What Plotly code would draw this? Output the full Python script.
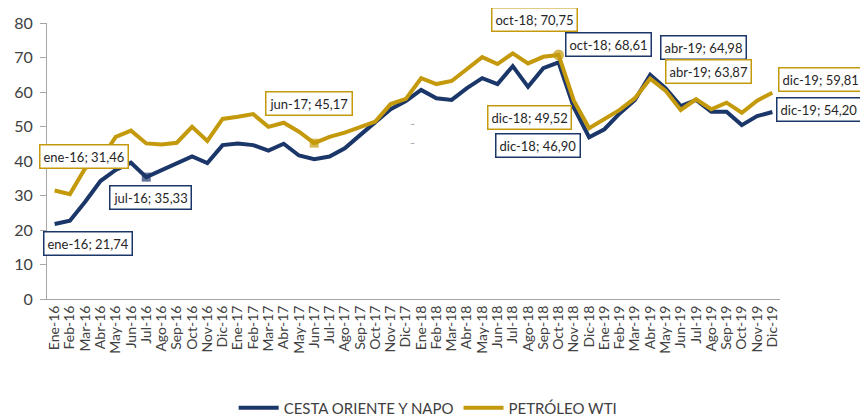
import plotly.graph_objects as go

months = ["Ene-16","Feb-16","Mar-16","Abr-16","May-16","Jun-16","Jul-16","Ago-16","Sep-16","Oct-16","Nov-16","Dic-16",
          "Ene-17","Feb-17","Mar-17","Abr-17","May-17","Jun-17","Jul-17","Ago-17","Sep-17","Oct-17","Nov-17","Dic-17",
          "Ene-18","Feb-18","Mar-18","Abr-18","May-18","Jun-18","Jul-18","Ago-18","Sep-18","Oct-18","Nov-18","Dic-18",
          "Ene-19","Feb-19","Mar-19","Abr-19","May-19","Jun-19","Jul-19","Ago-19","Sep-19","Oct-19","Nov-19","Dic-19"]

cesta = [21.74, 22.7, 28.2, 34.2, 37.4, 39.5, 35.33, 37.4, 39.4, 41.3, 39.4, 44.6,
         45.1, 44.6, 43.0, 45.0, 41.6, 40.5, 41.3, 43.7, 47.5, 51.4, 55.0, 57.4,
         60.6, 58.2, 57.7, 61.1, 64.0, 62.3, 67.5, 61.5, 66.9, 68.61, 55.5, 46.90,
         49.2, 53.8, 57.7, 64.98, 61.1, 55.9, 57.7, 54.3, 54.3, 50.4, 53.0, 54.20]

wti = [31.46, 30.4, 37.9, 40.3, 47.0, 48.8, 45.1, 44.8, 45.3, 49.9, 45.8, 52.2,
       52.8, 53.6, 49.9, 51.1, 48.5, 45.17, 47.0, 48.2, 49.8, 51.4, 56.5, 58.0,
       64.0, 62.3, 63.2, 66.6, 70.1, 68.1, 71.2, 68.3, 70.2, 70.75, 57.5, 49.52,
       52.1, 54.8, 58.2, 63.87, 60.4, 54.8, 57.9, 55.0, 56.9, 54.0, 57.5, 59.81]

NAVY = "#1B3668"
GOLD = "#C49A0C"
TXT = "#404040"
FONT = "Lato"

# labelled points: (series, month, label, xshift, yshift)
labels = [
    ("wti", "Ene-16", "ene-16; 31,46", 29, 34),
    ("cesta", "Jul-16", "jul-16; 35,33", 4, -20),
    ("cesta", "Ene-16", "ene-16; 21,74", 33, -19),
    ("wti", "Jun-17", "jun-17; 45,17", -5, 40),
    ("wti", "Oct-18", "oct-18; 70,75", -24, 35),
    ("cesta", "Oct-18", "oct-18; 68,61", 50, 18),
    ("wti", "Dic-18", "dic-18; 49,52", -60, 11),
    ("cesta", "Dic-18", "dic-18; 46,90", -51, -8),
    ("cesta", "Abr-19", "abr-19; 64,98", 53, 27),
    ("wti", "Abr-19", "abr-19; 63,87", 58, 7),
    ("wti", "Dic-19", "dic-19; 59,81", 48, 13),
    ("cesta", "Dic-19", "dic-19; 54,20", 47, 3),
]

def marker_arrays(marked):
    sizes, symbols = [], []
    for m in months:
        if m in marked:
            sizes.append(marked[m][0]); symbols.append(marked[m][1])
        else:
            sizes.append(0); symbols.append("circle")
    return sizes, symbols

cs, csym = marker_arrays({"Jul-16": (9, "square")})
ws, wsym = marker_arrays({"Jun-17": (9, "square"), "Oct-18": (11, "circle")})

fig = go.Figure()
fig.add_trace(go.Scatter(x=months, y=cesta, name="CESTA ORIENTE Y NAPO", mode="lines+markers",
                         line=dict(color=NAVY, width=4),
                         marker=dict(size=cs, symbol=csym, color=NAVY, line=dict(width=0))))
fig.add_trace(go.Scatter(x=months, y=wti, name="PETRÓLEO WTI", mode="lines+markers",
                         line=dict(color=GOLD, width=4),
                         marker=dict(size=ws, symbol=wsym, color=GOLD, line=dict(width=0))))

series = {"cesta": (cesta, NAVY), "wti": (wti, GOLD)}
for s, m, txt, dx, dy in labels:
    vals, col = series[s]
    fig.add_annotation(x=m, y=vals[months.index(m)], text=txt, showarrow=False,
                       xshift=dx, yshift=dy, bgcolor="white", bordercolor=col, borderwidth=1.5,
                       borderpad=3, font=dict(family=FONT, size=13, color="#262626"))

for yp in (0.634, 0.565):
    fig.add_annotation(x=0.498, y=yp, xref="paper", yref="paper", text="~", showarrow=False,
                       font=dict(family=FONT, size=8, color="#777777"))

fig.update_layout(
    width=860, height=408,
    margin=dict(l=39, r=88, t=15, b=117, autoexpand=False),
    plot_bgcolor="white", paper_bgcolor="white",
    font=dict(family=FONT, color=TXT),
    legend=dict(orientation="h", x=0.52, xanchor="center", y=-0.335, yanchor="top",
                font=dict(family=FONT, size=15, color=TXT), itemwidth=40),
    showlegend=True,
)
fig.update_xaxes(type="category", range=[-0.5, len(months) - 0.5], tickmode="array",
                 tickvals=months, ticktext=months,
                 tickangle=-90, showgrid=False, showline=True, linecolor="#A6A6A6", automargin=False,
                 linewidth=1, ticks="", tickfont=dict(family=FONT, size=14, color=TXT))
fig.update_yaxes(range=[0, 80], dtick=10, showgrid=False, showline=True, linecolor="#A6A6A6", linewidth=1,
                 ticks="outside", ticklen=6, tickcolor="#A6A6A6", zeroline=False, automargin=False,
                 ticklabelstandoff=4, tickfont=dict(family=FONT, size=16, color=TXT))

fig.write_html("out.html")
